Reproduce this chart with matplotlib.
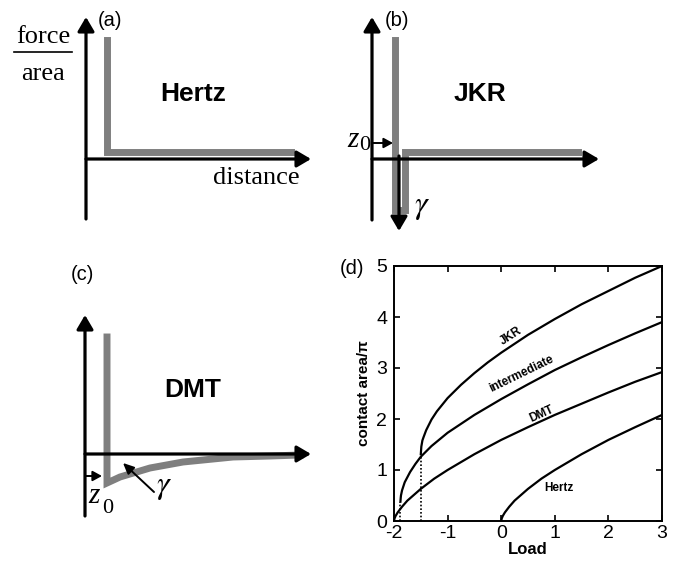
import numpy as np
import matplotlib
matplotlib.use('Agg')
import matplotlib.pyplot as plt

plt.rcParams['mathtext.fontset'] = 'stix'
plt.rcParams['axes.unicode_minus'] = False

SERIF = 'Liberation Serif'
SANS = 'Liberation Sans'
GRAY = '#7f7f7f'

# ---- panel (d) data ----
jkr_load = [-1.5, -1.49, -1.47, -1.45, -1.4, -1.3, -1.2, -1.0, -0.75, -0.5, -0.25, 0.0, 0.5, 1.0, 1.5, 2.0, 2.5, 3.0]
jkr_area = [1.31, 1.46, 1.58, 1.64, 1.78, 1.99, 2.15, 2.41, 2.67, 2.90, 3.11, 3.30, 3.65, 3.96, 4.25, 4.51, 4.77, 5.00]

mid_load = [-1.88, -1.875, -1.87, -1.85, -1.8, -1.7, -1.6, -1.5, -1.3, -1.0, -0.5, 0.0, 0.5, 1.0, 1.5, 2.0, 2.5, 3.0]
mid_area = [0.38, 0.45, 0.50, 0.60, 0.76, 0.96, 1.12, 1.26, 1.47, 1.73, 2.08, 2.39, 2.68, 2.96, 3.21, 3.45, 3.68, 3.90]

dmt_load = [-2.0, -1.99, -1.97, -1.93, -1.85, -1.75, -1.5, -1.25, -1.0, -0.5, 0.0, 0.5, 1.0, 1.5, 2.0, 2.5, 3.0]
dmt_area = [0.0, 0.05, 0.10, 0.17, 0.28, 0.40, 0.63, 0.83, 1.00, 1.31, 1.59, 1.84, 2.08, 2.30, 2.52, 2.73, 2.92]

hertz_load = [0.0, 0.01, 0.03, 0.07, 0.15, 0.25, 0.5, 0.75, 1.0, 1.5, 2.0, 2.5, 3.0]
hertz_area = [0.0, 0.05, 0.10, 0.17, 0.28, 0.40, 0.63, 0.83, 1.00, 1.31, 1.59, 1.84, 2.08]

# pull-off markers (dotted)
pulloff_load = [-1.88, -1.5]
pulloff_area = [0.38, 1.27]

# ---- schematic panels, local pixel-like coords (x right, y down) ----
# (a) Hertz
a_vaxis = ([86, 86], [219, 17])
a_haxis = ([86, 311], [159, 159])
a_gray_x = [107, 107, 291]
a_gray_y = [40, 152, 152]

# (b) JKR
b_vaxis = ([32, 32], [220, 17])
b_haxis = ([32, 259], [159, 159])
b_gray_x = [55, 55, 65, 65, 238]
b_gray_y = [40, 210, 210, 152, 152]
b_down = ([59, 59], [156, 231])
b_z0 = ([33, 53], [143, 143])

# (c) DMT
c_vaxis = ([85, 85], [266, 65])
c_haxis = ([85, 311], [204, 204])
c_gray_x = [107, 107, 120, 150, 183, 233, 270, 300]
c_gray_y = [87, 233, 227, 218, 212, 207, 206, 205]
c_z0 = ([85, 102], [226, 226])
c_gamma = ([154, 123], [242, 213])

fig = plt.figure(figsize=(6.77, 5.63), dpi=100)
W, H = 677, 563


def panel(x0, y0, w, h):
    ax = fig.add_axes([x0 / W, 1 - (y0 + h) / H, w / W, h / H])
    ax.set_xlim(0, w)
    ax.set_ylim(h, 0)
    ax.axis('off')
    return ax


def arrow(ax, xs, ys, lw=2.3, hl=0.85, hw=0.5):
    ax.annotate('', xy=(xs[1], ys[1]), xytext=(xs[0], ys[0]),
                arrowprops=dict(arrowstyle=f'-|>,head_length={hl},head_width={hw}',
                                lw=lw, color='black', shrinkA=0, shrinkB=0))


# (a)
ax = panel(0, 0, 340, 250)
ax.plot(a_gray_x, a_gray_y, color=GRAY, lw=5, solid_joinstyle='miter')
arrow(ax, *a_vaxis)
arrow(ax, *a_haxis)
ax.text(110, 20, '(a)', family=SANS, fontsize=14.5, ha='center', va='center')
ax.text(43, 43, 'force', family=SERIF, fontsize=19, ha='center', va='baseline')
ax.plot([14, 72], [52, 52], color='black', lw=1.2)
ax.text(43, 80, 'area', family=SERIF, fontsize=19, ha='center', va='baseline')
ax.text(256, 184, 'distance', family=SERIF, fontsize=19, ha='center', va='baseline')
ax.text(193, 101, 'Hertz', family=SANS, fontsize=19, weight='bold', ha='center', va='baseline')

# (b)
ax = panel(340, 0, 337, 250)
ax.plot(b_gray_x, b_gray_y, color=GRAY, lw=5, solid_joinstyle='miter')
arrow(ax, *b_vaxis)
arrow(ax, *b_haxis)
arrow(ax, *b_down)
arrow(ax, *b_z0, lw=1.4, hl=0.55, hw=0.3)
ax.text(57, 20, '(b)', family=SANS, fontsize=14.5, ha='center', va='center')
ax.text(13, 147, 'z', family=SERIF, style='italic', fontsize=21, ha='center', va='baseline')
ax.text(25, 150, '0', family=SERIF, fontsize=16, ha='center', va='baseline')
ax.text(82, 206, r'$\gamma$', fontsize=23, ha='center', va='center')
ax.text(140, 101, 'JKR', family=SANS, fontsize=19, weight='bold', ha='center', va='baseline')

# (c)
ax = panel(0, 250, 340, 313)
ax.plot(c_gray_x, c_gray_y, color=GRAY, lw=5, solid_joinstyle='miter')
arrow(ax, *c_vaxis)
arrow(ax, *c_haxis)
arrow(ax, *c_z0, lw=1.4, hl=0.55, hw=0.3)
arrow(ax, *c_gamma, lw=1.4, hl=0.65, hw=0.3)
ax.text(82, 25, '(c)', family=SANS, fontsize=14.5, ha='center', va='center')
ax.text(94, 253, 'z', family=SERIF, style='italic', fontsize=21, ha='center', va='baseline')
ax.text(108, 263, '0', family=SERIF, fontsize=16, ha='center', va='baseline')
ax.text(164, 236, r'$\gamma$', fontsize=23, ha='center', va='center')
ax.text(193, 147, 'DMT', family=SANS, fontsize=19, weight='bold', ha='center', va='baseline')

# (d) contact area vs load
axd = fig.add_axes([394 / W, 1 - 521 / H, 268 / W, 255 / H])
for x, y in [(jkr_load, jkr_area), (mid_load, mid_area), (dmt_load, dmt_area), (hertz_load, hertz_area)]:
    axd.plot(x, y, color='black', lw=1.6)
for x, y in zip(pulloff_load, pulloff_area):
    axd.plot([x, x], [0, y], color='black', lw=1.2, ls=(0, (1, 1.2)))
axd.set_xlim(-2, 3)
axd.set_ylim(0, 5)
axd.set_xticks([-2, -1, 0, 1, 2, 3])
axd.set_yticks([0, 1, 2, 3, 4, 5])
axd.tick_params(direction='in', top=True, right=True, length=4, width=1.2, labelsize=14)
axd.tick_params(axis='x', pad=3)
axd.tick_params(axis='y', pad=5)
for lab in axd.get_xticklabels() + axd.get_yticklabels():
    lab.set_family(SANS)
for s in axd.spines.values():
    s.set_linewidth(1.4)
axd.set_xlabel('Load', family=SANS, fontsize=12, weight='bold', labelpad=0)
axd.set_ylabel('contact area/π', family=SANS, fontsize=11, weight='bold', labelpad=4)
fig.text(352 / W, 1 - 268 / H, '(d)', family=SANS, fontsize=14.5, ha='center', va='center')

axd.text(0.18, 3.62, 'JKR', family=SANS, fontsize=8.5, weight='bold', rotation=33, ha='center', va='center')
axd.text(0.38, 2.88, 'intermediate', family=SANS, fontsize=8.5, weight='bold', rotation=26, ha='center', va='center')
axd.text(0.75, 2.10, 'DMT', family=SANS, fontsize=8.5, weight='bold', rotation=24, ha='center', va='center')
axd.text(1.07, 0.64, 'Hertz', family=SANS, fontsize=8.5, weight='bold', ha='center', va='center')

fig.savefig('out.png', dpi=100)
